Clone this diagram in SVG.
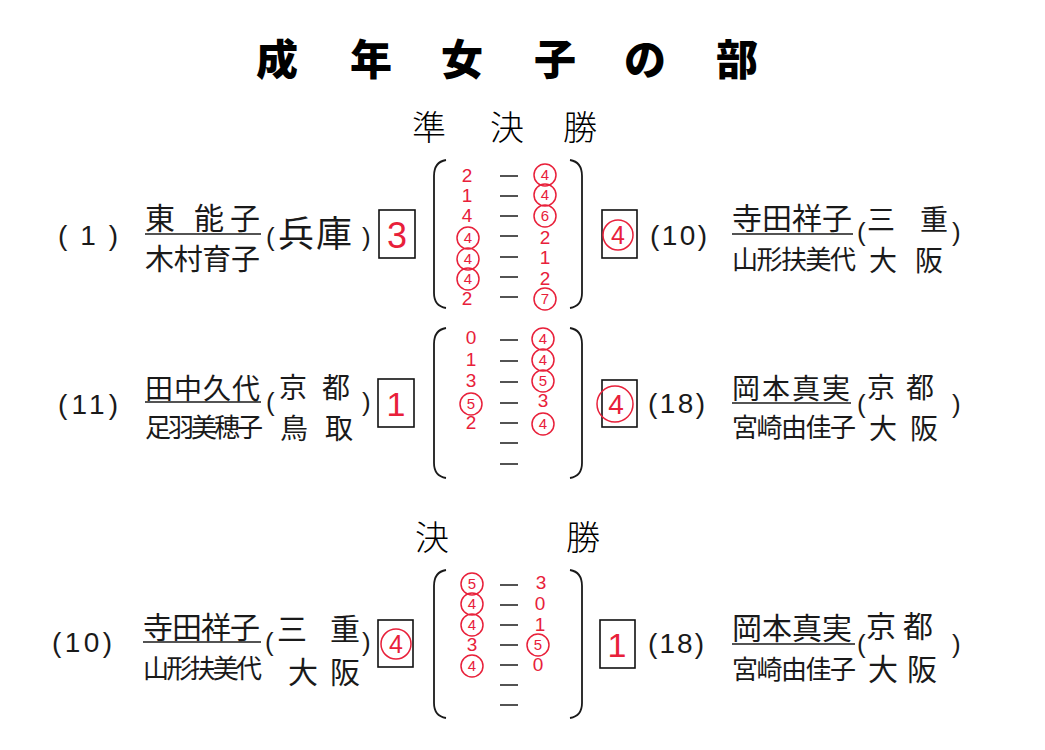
<svg xmlns="http://www.w3.org/2000/svg" width="1045" height="750" viewBox="0 0 1045 750">
<style>
.title{font-family:"Noto Sans CJK JP","Noto Sans",sans-serif;font-weight:900;font-size:42px;fill:#000;text-anchor:middle}
.sub{font-family:"Noto Sans CJK JP",sans-serif;font-weight:300;font-size:34px;fill:#000;text-anchor:middle}
.nm{font-family:"Noto Sans CJK JP",sans-serif;font-weight:400;fill:#1a1a1a}
.pr{font-family:"Liberation Sans","Noto Sans CJK JP",sans-serif;font-size:26px;fill:#1a1a1a}
.sd{font-family:"Liberation Sans","Noto Sans CJK JP",sans-serif;font-size:28px;fill:#1a1a1a}
.ul{stroke:#1a1a1a;stroke-width:1.6}
.box{fill:none;stroke:#111;stroke-width:1.6}
.rd{font-family:"Liberation Sans",sans-serif;fill:#e8203a;text-anchor:middle}
.sc{font-family:"Liberation Sans",sans-serif;font-size:19px;fill:#e8203a;text-anchor:middle}
.sci{font-family:"Liberation Sans",sans-serif;font-size:15px;fill:#e8203a;text-anchor:middle}
.ci{fill:none;stroke:#e8203a;stroke-width:1.5}
.br{fill:none;stroke:#1a1a1a;stroke-width:1.8}
.ds{stroke:#1a1a1a;stroke-width:1.5}
</style>

<g id="title">
<text class="title" x="277" y="75">成</text>
<text class="title" x="371" y="75">年</text>
<text class="title" x="462" y="75">女</text>
<text class="title" x="555" y="75">子</text>
<text class="title" x="645" y="75">の</text>
<text class="title" x="737" y="75">部</text>
</g>

<g id="semifinal-heading">
<text class="sub" x="429" y="140">準</text>
<text class="sub" x="507" y="140">決</text>
<text class="sub" x="580" y="140">勝</text>
</g>

<!-- Semifinal 1 -->
<g id="sf1-left">
<text class="sd" x="58" y="245" textLength="60">(1)</text>
<text class="nm" x="145" y="229" font-size="30" textLength="115">東 能子</text>
<line class="ul" x1="145" y1="234" x2="261" y2="234"/>
<text class="nm" x="145" y="270" font-size="29" textLength="115">木村育子</text>
<text class="pr" x="266" y="246">(</text>
<text class="nm" x="278" y="247" font-size="36" textLength="74">兵庫</text>
<text class="pr" x="362" y="246">)</text>
<rect class="box" x="379" y="210" width="36" height="48"/>
<text class="rd" x="397" y="248" font-size="36">3</text>
</g>

<g id="sf1-score">
<path class="br" d="M446 160 Q434 162 434 176 L434 293 Q434 306 446 308"/>
<path class="br" d="M570 160 Q582 162 582 176 L582 293 Q582 306 570 308"/>
<g>
<line class="ds" x1="500" y1="176" x2="518" y2="176"/>
<line class="ds" x1="500" y1="196" x2="518" y2="196"/>
<line class="ds" x1="500" y1="216" x2="518" y2="216"/>
<line class="ds" x1="500" y1="236" x2="518" y2="236"/>
<line class="ds" x1="500" y1="257" x2="518" y2="257"/>
<line class="ds" x1="500" y1="277" x2="518" y2="277"/>
<line class="ds" x1="500" y1="297" x2="518" y2="297"/>
</g>
<text class="sc" x="467" y="182">2</text>
<text class="sc" x="467" y="202">1</text>
<text class="sc" x="467" y="222">4</text>
<circle class="ci" cx="468" cy="238" r="11"/><text class="sci" x="468" y="243">4</text>
<circle class="ci" cx="468" cy="259" r="11"/><text class="sci" x="468" y="264">4</text>
<circle class="ci" cx="468" cy="279" r="11"/><text class="sci" x="468" y="284">4</text>
<text class="sc" x="467" y="305">2</text>
<circle class="ci" cx="545" cy="175" r="11"/><text class="sci" x="545" y="180">4</text>
<circle class="ci" cx="545" cy="195" r="11"/><text class="sci" x="545" y="200">4</text>
<circle class="ci" cx="545" cy="216" r="11"/><text class="sci" x="545" y="221">6</text>
<text class="sc" x="545" y="244">2</text>
<text class="sc" x="545" y="264">1</text>
<text class="sc" x="545" y="285">2</text>
<circle class="ci" cx="545" cy="299" r="11"/><text class="sci" x="545" y="304">7</text>
</g>

<g id="sf1-right">
<rect class="box" x="602" y="210" width="35" height="48"/>
<circle class="ci" cx="618" cy="235" r="15"/>
<text class="rd" x="618" y="244" font-size="25">4</text>
<text class="sd" x="650" y="245" textLength="57">(10)</text>
<text class="nm" x="732" y="229" font-size="30" textLength="120">寺田祥子</text>
<line class="ul" x1="732" y1="234" x2="853" y2="234"/>
<text class="nm" x="732" y="269" font-size="26" textLength="124">山形扶美代</text>
<text class="pr" x="857" y="241">(</text>
<text class="nm" x="867" y="230" font-size="28" textLength="81">三 重</text>
<text class="nm" x="869" y="271" font-size="28" textLength="74">大阪</text>
<text class="pr" x="952" y="241">)</text>
</g>

<!-- Semifinal 2 -->
<g id="sf2-left">
<text class="sd" x="58" y="414" textLength="60">(11)</text>
<text class="nm" x="145" y="399" font-size="28" textLength="115">田中久代</text>
<line class="ul" x1="145" y1="402" x2="261" y2="402"/>
<text class="nm" x="145" y="437" font-size="26" textLength="118">足羽美穂子</text>
<text class="pr" x="266" y="411">(</text>
<text class="nm" x="279" y="398" font-size="28" textLength="71">京 都</text>
<text class="nm" x="280" y="439" font-size="28" textLength="73">鳥 取</text>
<text class="pr" x="362" y="411">)</text>
<rect class="box" x="378" y="379" width="36" height="48"/>
<text class="rd" x="396" y="416" font-size="34">1</text>
</g>

<g id="sf2-score">
<path class="br" d="M446 328 Q434 330 434 344 L434 463 Q434 476 446 478"/>
<path class="br" d="M570 328 Q582 330 582 344 L582 463 Q582 476 570 478"/>
<g>
<line class="ds" x1="500" y1="340" x2="518" y2="340"/>
<line class="ds" x1="500" y1="361" x2="518" y2="361"/>
<line class="ds" x1="500" y1="382" x2="518" y2="382"/>
<line class="ds" x1="500" y1="403" x2="518" y2="403"/>
<line class="ds" x1="500" y1="423" x2="518" y2="423"/>
<line class="ds" x1="500" y1="443" x2="518" y2="443"/>
<line class="ds" x1="500" y1="464" x2="518" y2="464"/>
</g>
<text class="sc" x="471" y="344">0</text>
<text class="sc" x="471" y="366">1</text>
<text class="sc" x="471" y="387">3</text>
<circle class="ci" cx="471" cy="404" r="11"/><text class="sci" x="471" y="409">5</text>
<text class="sc" x="471" y="429">2</text>
<circle class="ci" cx="543" cy="339" r="11"/><text class="sci" x="543" y="344">4</text>
<circle class="ci" cx="543" cy="360" r="11"/><text class="sci" x="543" y="365">4</text>
<circle class="ci" cx="543" cy="381" r="11"/><text class="sci" x="543" y="386">5</text>
<text class="sc" x="543" y="407">3</text>
<circle class="ci" cx="543" cy="424" r="11"/><text class="sci" x="543" y="429">4</text>
</g>

<g id="sf2-right">
<rect class="box" x="602" y="380" width="35" height="47"/>
<circle class="ci" cx="615" cy="404" r="18"/>
<text class="rd" x="616" y="414" font-size="28">4</text>
<text class="sd" x="648" y="413" textLength="57">(18)</text>
<text class="nm" x="732" y="399" font-size="28" textLength="118">岡本真実</text>
<line class="ul" x1="732" y1="403" x2="851" y2="403"/>
<text class="nm" x="732" y="437" font-size="26" textLength="124">宮崎由佳子</text>
<text class="pr" x="857" y="413">(</text>
<text class="nm" x="867" y="398" font-size="28" textLength="67">京都</text>
<text class="nm" x="869" y="439" font-size="28" textLength="69">大阪</text>
<text class="pr" x="952" y="413">)</text>
</g>

<!-- Final -->
<g id="final-heading">
<text class="sub" x="432" y="550">決</text>
<text class="sub" x="583" y="550">勝</text>
</g>

<g id="final-left">
<text class="sd" x="52" y="652" textLength="60">(10)</text>
<text class="nm" x="143" y="638" font-size="30" textLength="117">寺田祥子</text>
<line class="ul" x1="143" y1="642" x2="261" y2="642"/>
<text class="nm" x="143" y="678" font-size="26" textLength="119">山形扶美代</text>
<text class="pr" x="265" y="651">(</text>
<text class="nm" x="277" y="640" font-size="30" textLength="83">三 重</text>
<text class="nm" x="288" y="683" font-size="30" textLength="72">大阪</text>
<text class="pr" x="362" y="651">)</text>
<rect class="box" x="378" y="620" width="35" height="47"/>
<circle class="ci" cx="396" cy="644" r="15"/>
<text class="rd" x="396" y="653" font-size="25">4</text>
</g>

<g id="final-score">
<path class="br" d="M446 570 Q434 572 434 586 L434 703 Q434 716 446 718"/>
<path class="br" d="M570 570 Q582 572 582 586 L582 703 Q582 716 570 718"/>
<g>
<line class="ds" x1="500" y1="585" x2="518" y2="585"/>
<line class="ds" x1="500" y1="605" x2="518" y2="605"/>
<line class="ds" x1="500" y1="625" x2="518" y2="625"/>
<line class="ds" x1="500" y1="645" x2="518" y2="645"/>
<line class="ds" x1="500" y1="665" x2="518" y2="665"/>
<line class="ds" x1="500" y1="685" x2="518" y2="685"/>
<line class="ds" x1="500" y1="705" x2="518" y2="705"/>
</g>
<circle class="ci" cx="472" cy="584" r="11"/><text class="sci" x="472" y="589">5</text>
<circle class="ci" cx="472" cy="604" r="11"/><text class="sci" x="472" y="609">4</text>
<circle class="ci" cx="472" cy="625" r="11"/><text class="sci" x="472" y="630">4</text>
<text class="sc" x="472" y="651">3</text>
<circle class="ci" cx="472" cy="666" r="11"/><text class="sci" x="472" y="671">4</text>
<text class="sc" x="541" y="589">3</text>
<text class="sc" x="540" y="610">0</text>
<text class="sc" x="540" y="631">1</text>
<circle class="ci" cx="538" cy="645" r="11"/><text class="sci" x="538" y="650">5</text>
<text class="sc" x="538" y="671">0</text>
</g>

<g id="final-right">
<rect class="box" x="600" y="620" width="35" height="48"/>
<text class="rd" x="617" y="657" font-size="34">1</text>
<text class="sd" x="648" y="653" textLength="56">(18)</text>
<text class="nm" x="732" y="639" font-size="30" textLength="120">岡本真実</text>
<line class="ul" x1="732" y1="644" x2="855" y2="644"/>
<text class="nm" x="732" y="679" font-size="26" textLength="124">宮崎由佳子</text>
<text class="pr" x="857" y="653">(</text>
<text class="nm" x="866" y="637" font-size="30" textLength="67">京都</text>
<text class="nm" x="868" y="680" font-size="30" textLength="69">大阪</text>
<text class="pr" x="952" y="653">)</text>
</g>

<g id="connectors"></g>
</svg>
